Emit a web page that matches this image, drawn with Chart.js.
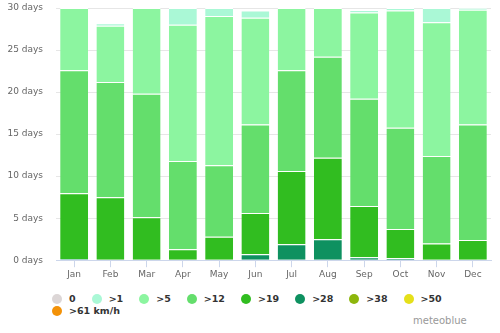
<!DOCTYPE html>
<html>
<head>
<meta charset="utf-8">
<script src="https://cdn.jsdelivr.net/npm/chart.js@4"></script>
<style>
  body { margin: 0; background: #fff; }
  #wrap { position: relative; width: 500px; height: 333px; }
  #legend {
    position: absolute; left: 52px; top: 293px; width: 422px;
    display: flex; flex-wrap: wrap;
    font: bold 9.5px "DejaVu Sans"; color: #333; line-height: 12px;
  }
  .item { display: flex; align-items: center; margin-right: 16px; }
  .dot { width: 10px; height: 10px; border-radius: 50%; margin-right: 7px; }
  #credit { position: absolute; left: 413px; top: 315px; font: 10px "DejaVu Sans"; color: #999; }
</style>
</head>
<body>
<div id="wrap">
  <canvas id="myChart" width="500" height="285"></canvas>
  <div id="legend"></div>
  <div id="credit">meteoblue</div>
</div>
<script>
"use strict";
// days per month with max wind speed above each class (km/h)
const months = ["Jan", "Feb", "Mar", "Apr", "May", "Jun", "Jul", "Aug", "Sep", "Oct", "Nov", "Dec"];
const calm   = [0, 0, 0, 0, 0, 0, 0, 0, 0, 0, 0, 0];
const over1  = [0, 0.3, 0, 2.0, 0.95, 0.85, 0, 0, 0.3, 0.3, 1.7, 0.2];
const over5  = [7.4, 6.7, 10.2, 16.2, 17.75, 12.7, 7.4, 5.8, 10.25, 13.95, 15.9, 13.65];
const over12 = [14.65, 13.7, 14.7, 10.5, 8.5, 10.55, 12.0, 12.0, 12.75, 12.05, 10.4, 13.75];
const over19 = [7.8, 7.5, 5.1, 1.3, 2.8, 4.9, 8.7, 9.7, 6.1, 3.45, 2.0, 2.4];
const over28 = [0.15, 0, 0, 0, 0, 0.7, 1.9, 2.5, 0.35, 0.25, 0, 0];
const over38 = [0, 0, 0, 0, 0, 0, 0, 0, 0, 0, 0, 0];
const over50 = [0, 0, 0, 0, 0, 0, 0, 0, 0, 0, 0, 0];
const over61 = [0, 0, 0, 0, 0, 0, 0, 0, 0, 0, 0, 0];

const classes = [
  { label: "0", data: calm, color: "#dcd6d6" },
  { label: ">1", data: over1, color: "#aaf8d6" },
  { label: ">5", data: over5, color: "#8cf5a0" },
  { label: ">12", data: over12, color: "#64de6c" },
  { label: ">19", data: over19, color: "#31bd20" },
  { label: ">28", data: over28, color: "#0e9160" },
  { label: ">38", data: over38, color: "#8db60c" },
  { label: ">50", data: over50, color: "#e5e01a" },
  { label: ">61 km/h", data: over61, color: "#f39208" },
];

const axisFont = { family: "DejaVu Sans", size: 9 };

const ctx = document.getElementById("myChart").getContext("2d");
const myChart = new Chart(ctx, {
  type: "bar",
  data: {
    labels: months,
    // strongest class at the bottom of the stack
    datasets: classes.slice().reverse().map((c) => ({
      label: c.label,
      data: c.data,
      backgroundColor: c.color,
      borderColor: "#ffffff",
      borderWidth: { top: 1, right: 0, bottom: 0, left: 0 },
      borderSkipped: false,
      categoryPercentage: 1,
      barPercentage: 0.77,
    })),
  },
  options: {
    responsive: false,
    animation: false,
    layout: { padding: { left: 8, right: 9, top: 8, bottom: 3 } },
    plugins: {
      legend: { display: false },
      tooltip: { enabled: false },
    },
    scales: {
      x: {
        stacked: true,
        grid: { drawOnChartArea: false, offset: false, tickLength: 7, color: "#ccd6eb" },
        border: { color: "#ccd6eb" },
        ticks: { font: axisFont, color: "#666", padding: 2 },
      },
      y: {
        stacked: true,
        min: 0,
        max: 30,
        // invisible ticks give the gap between labels and grid
        grid: { color: "#e6e6e6", drawTicks: true, tickLength: 12, tickColor: "rgba(0,0,0,0)" },
        border: { display: false },
        afterFit: (scale) => { scale.width = 48; },
        ticks: {
          stepSize: 5,
          font: axisFont,
          color: "#666",
          padding: 1,
          callback: (v) => v + " days",
        },
      },
    },
  },
});

// legend in the original order, built from the chart's datasets
const legend = document.getElementById("legend");
myChart.data.datasets.slice().reverse().forEach((ds) => {
  const item = document.createElement("div");
  item.className = "item";
  const dot = document.createElement("span");
  dot.className = "dot";
  dot.style.background = ds.backgroundColor;
  const text = document.createElement("span");
  text.textContent = ds.label;
  item.appendChild(dot);
  item.appendChild(text);
  legend.appendChild(item);
});
</script>
</body>
</html>
